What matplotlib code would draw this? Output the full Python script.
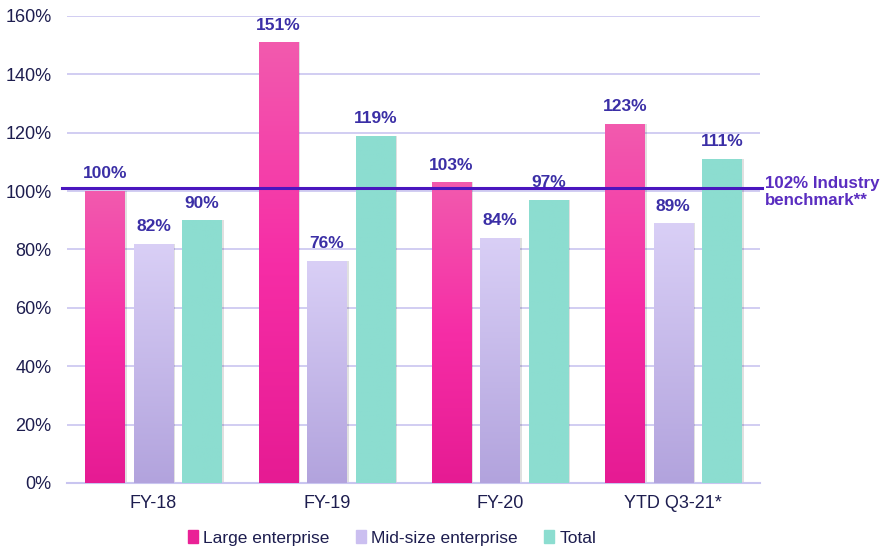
import numpy as np
import matplotlib
matplotlib.use("Agg")
import matplotlib.pyplot as plt
from matplotlib.colors import LinearSegmentedColormap
from matplotlib.patches import Patch

plt.rcParams['font.family'] = ['Liberation Sans', 'DejaVu Sans']

# data
categories = ["FY-18", "FY-19", "FY-20", "YTD Q3-21*"]
large = [100, 151, 103, 123]
midsize = [82, 76, 84, 89]
total = [90, 119, 97, 111]
series_names = ["Large enterprise", "Mid-size enterprise", "Total"]
benchmark = 102
benchmark_label = "102% Industry\nbenchmark**"

# gradients (bottom -> top)
grad_cols = [["#e61b93", "#f62da6", "#f25aae"],
             ["#b2a3dd", "#d9cff6"],
             ["#8cddd0", "#8cddd0"]]
solid = ["#ea2196", "#cbbff0", "#8cddd0"]
label_col = "#3b2fa6"
tick_col = "#1d1d4f"

fig = plt.figure(figsize=(8.85, 5.5), dpi=100)
ax = fig.add_axes([0.0757, 0.122, 0.783, 0.849])

x = np.arange(len(categories))
w = 0.228
step = 0.28
grad = np.linspace(0, 1, 256).reshape(-1, 1)

for i, vals in enumerate([large, midsize, total]):
    cmap = LinearSegmentedColormap.from_list("g%d" % i, grad_cols[i])
    pos = x + (i - 1) * step
    # soft shadow
    ax.bar(pos + 0.012, vals, width=w, color="#000000", alpha=0.12, zorder=2)
    bars = ax.bar(pos, vals, width=w, color=solid[i], zorder=3)
    for b, v in zip(bars, vals):
        x0 = b.get_x()
        im = ax.imshow(grad, cmap=cmap, origin="lower", aspect="auto",
                       extent=[x0, x0 + w, 0, v], zorder=3.5)
        im.set_clip_path(b)
        ax.text(b.get_x() + w / 2, v + 3.3, f"{v}%", ha="center", va="bottom",
                fontsize=12.5, fontweight="bold", color=label_col, zorder=5)

ax.set_xlim(-0.5, len(categories) - 0.5)
ax.set_ylim(0, 160)
ax.set_yticks(np.arange(0, 161, 20))
ax.set_yticklabels([f"{t}%" for t in range(0, 161, 20)])
ax.set_xticks(x)
ax.set_xticklabels(categories)
ax.tick_params(axis="both", length=0, labelsize=13, colors=tick_col, pad=9)
ax.tick_params(axis="y", pad=11)
ax.grid(axis="y", color="#c9c5f0", linewidth=1.2, zorder=0)
ax.set_axisbelow(True)
for s in ["top", "right", "left"]:
    ax.spines[s].set_visible(False)
ax.spines["bottom"].set_color("#c9c5f0")
ax.spines["bottom"].set_linewidth(1.5)

# benchmark line
ax.plot([-0.53, len(categories) - 0.49], [benchmark - 0.8, benchmark - 0.8], color="#4a16bf",
        linewidth=2.2, zorder=6, clip_on=False)
ax.text(len(categories) - 0.47, benchmark - 2.2, benchmark_label, ha="left", va="center",
        fontsize=12.2, fontweight="bold", color="#5a2dc0", linespacing=1.15)

handles = [Patch(color=c) for c in solid]
fig.legend(handles, series_names, loc="center", ncol=3, frameon=False,
           bbox_to_anchor=(0.443, 0.022), fontsize=12.5, handlelength=0.6,
           handleheight=0.8, handletextpad=0.3, columnspacing=1.5,
           labelcolor=tick_col)

fig.savefig("out.png", dpi=100)
